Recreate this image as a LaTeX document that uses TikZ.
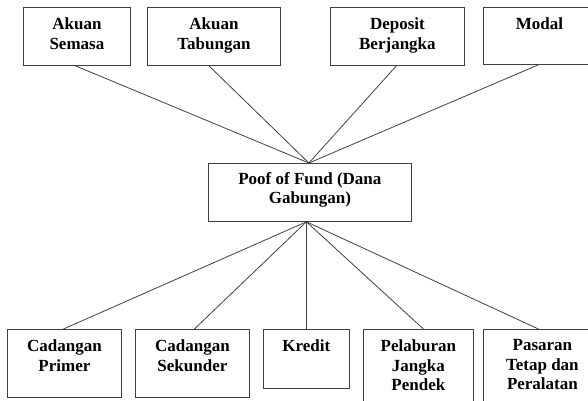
\documentclass[tikz,border=0pt]{standalone}
\usepackage{fontspec}
\setmainfont{Liberation Serif}
\begin{document}
\begin{tikzpicture}[x=1pt,y=-1pt,
  box/.style={draw=black!75, line width=0.8pt, inner sep=0pt, anchor=north west},
  caption/.style={anchor=north, inner sep=0pt, yshift=-10.5pt, align=center,
    font=\fontsize{17}{19.5}\selectfont\bfseries},
  link/.style={draw=black!75, line width=0.8pt}]
\useasboundingbox (0,0) rectangle (588,400);
\clip (0,0) rectangle (588,400);

% sources of funds
\node[box, minimum width=107pt, minimum height=58pt,
  label={[caption]north:Akuan\\Semasa}] (a1) at (23,7) {};
\node[box, minimum width=133pt, minimum height=58pt,
  label={[caption]north:Akuan\\Tabungan}] (a2) at (147,7) {};
\node[box, minimum width=134pt, minimum height=58pt,
  label={[caption]north:Deposit\\Berjangka}] (a3) at (330,7) {};
\node[box, minimum width=112pt, minimum height=57pt,
  label={[caption]north:Modal}] (a4) at (483,7) {};

% pooled fund
\node[box, minimum width=203pt, minimum height=58pt,
  label={[caption, yshift=1pt, font=\fontsize{17}{18.5}\selectfont\bfseries]north:Poof of Fund (Dana\\Gabungan)}] (c) at (208,163) {};

% uses of funds
\node[box, minimum width=114pt, minimum height=68pt,
  label={[caption]north:Cadangan\\Primer}] (b1) at (7,329) {};
\node[box, minimum width=114pt, minimum height=68pt,
  label={[caption]north:Cadangan\\Sekunder}] (b2) at (135,329) {};
\node[box, minimum width=86pt, minimum height=59pt,
  label={[caption]north:Kredit}] (b3) at (263,329) {};
\node[box, minimum width=110pt, minimum height=80pt,
  label={[caption]north:Pelaburan\\Jangka\\Pendek}] (b4) at (363,329) {};
\node[box, minimum width=118pt, minimum height=80pt,
  label={[caption]north:Pasaran\\Tetap dan\\Peralatan}] (b5) at (483,329) {};

% connectors
\draw[link] ([xshift=-1.5pt]a1.south) -- ([xshift=-1pt]c.north);
\draw[link] ([xshift=-5pt]a2.south) -- ([xshift=-1pt]c.north);
\draw[link] ([xshift=-1pt]a3.south) -- ([xshift=-1pt]c.north);
\draw[link] ([xshift=-1pt]a4.south) -- ([xshift=-1pt]c.north);

\draw[link] ([xshift=-3.5pt]c.south) -- ([xshift=-1pt]b1.north);
\draw[link] ([xshift=-3.5pt]c.south) -- ([xshift=2pt]b2.north);
\draw[link] ([xshift=-3.5pt]c.south) -- (b3.north);
\draw[link] ([xshift=-3.5pt]c.south) -- ([xshift=5pt]b4.north);
\draw[link] ([xshift=-3.5pt]c.south) -- ([xshift=-4pt]b5.north);
\end{tikzpicture}
\end{document}
